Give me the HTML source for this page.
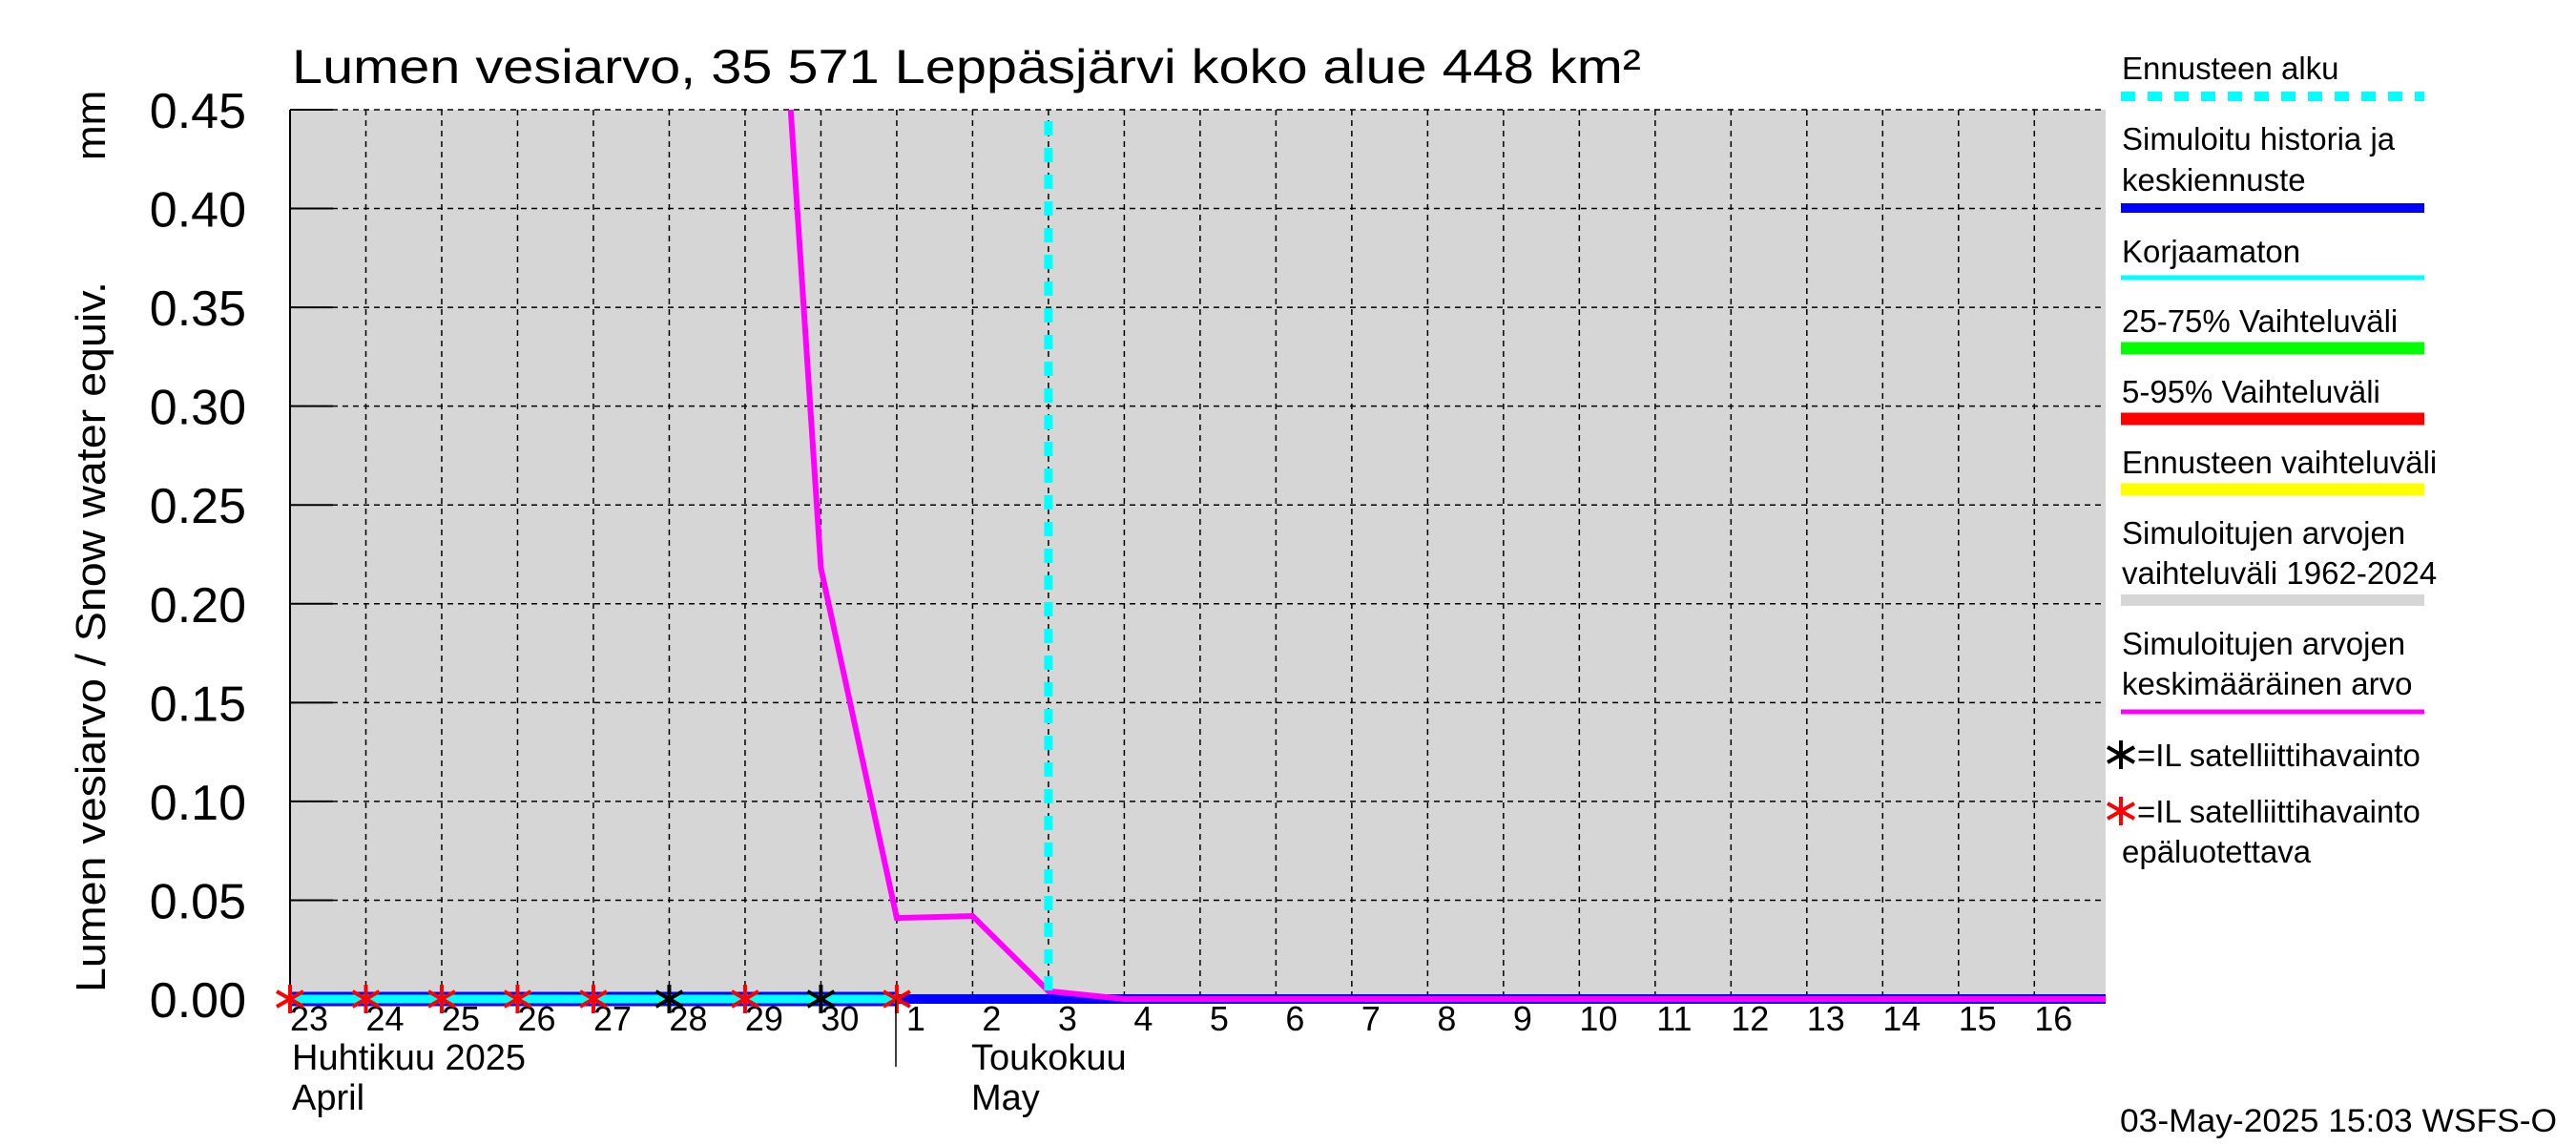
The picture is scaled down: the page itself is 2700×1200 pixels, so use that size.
<!DOCTYPE html>
<html><head><meta charset="utf-8"><style>
html,body{margin:0;padding:0;background:#fff;width:2700px;height:1200px;overflow:hidden}
svg{display:block;font-family:"Liberation Sans",Arial,sans-serif}
</style></head><body>
<svg id="chart" width="2700" height="1200" viewBox="0 0 2700 1200" xmlns="http://www.w3.org/2000/svg">
<text x="306" y="87" font-size="50" textLength="1414" lengthAdjust="spacingAndGlyphs">Lumen vesiarvo, 35 571 Leppäsjärvi koko alue 448 km²</text>
<rect x="304" y="115" width="1903" height="932" fill="#d6d6d6"/>
<g id="grid"></g>
<g id="yaxis"></g>
<g id="xaxis"></g>
<g id="series"></g>
<text transform="translate(110,1040) rotate(-90)" font-size="44" textLength="745" lengthAdjust="spacingAndGlyphs">Lumen vesiarvo / Snow water equiv.</text>
<text transform="translate(110,168) rotate(-90)" font-size="44">mm</text>
<text x="306" y="1121" font-size="38">Huhtikuu  2025</text>
<text x="306" y="1163" font-size="38">April</text>
<text x="1018" y="1121" font-size="38">Toukokuu</text>
<text x="1018" y="1163" font-size="38">May</text>
<line x1="939" y1="1047" x2="939" y2="1118" stroke="#000" stroke-width="1.5"/>
<g font-size="33">
<text x="2224" y="83">Ennusteen alku</text>
<line x1="2223" y1="101" x2="2541" y2="101" stroke="#00ffff" stroke-width="10" stroke-dasharray="15,13"/>
<text x="2224" y="157">Simuloitu historia ja</text>
<text x="2224" y="200">keskiennuste</text>
<line x1="2223" y1="218" x2="2541" y2="218" stroke="#0000ff" stroke-width="10"/>
<text x="2224" y="275">Korjaamaton</text>
<line x1="2223" y1="291" x2="2541" y2="291" stroke="#00ffff" stroke-width="5"/>
<text x="2224" y="348">25-75% Vaihteluväli</text>
<line x1="2223" y1="365" x2="2541" y2="365" stroke="#00ff00" stroke-width="13"/>
<text x="2224" y="422">5-95% Vaihteluväli</text>
<line x1="2223" y1="439" x2="2541" y2="439" stroke="#ff0000" stroke-width="13"/>
<text x="2224" y="496">Ennusteen vaihteluväli</text>
<line x1="2223" y1="513" x2="2541" y2="513" stroke="#ffff00" stroke-width="13"/>
<text x="2224" y="570">Simuloitujen arvojen</text>
<text x="2224" y="612">vaihteluväli 1962-2024</text>
<line x1="2223" y1="629" x2="2541" y2="629" stroke="#d6d6d6" stroke-width="12"/>
<text x="2224" y="686">Simuloitujen arvojen</text>
<text x="2224" y="728">keskimääräinen arvo</text>
<line x1="2223" y1="746" x2="2541" y2="746" stroke="#ff00ff" stroke-width="5"/>
<g id="legstars"></g>
<text x="2240" y="803">=IL satelliittihavainto</text>
<text x="2240" y="862">=IL satelliittihavainto</text>
<text x="2224" y="904">epäluotettava</text>
</g>
<text x="2222" y="1186" font-size="34" textLength="458" lengthAdjust="spacingAndGlyphs">03-May-2025 15:03 WSFS-O</text>
</svg>
<script>
const dayLabels = ["23","24","25","26","27","28","29","30","1","2","3","4","5","6","7","8","9","10","11","12","13","14","15","16"];
const yTicks = [0,0.05,0.10,0.15,0.20,0.25,0.30,0.35,0.40,0.45];
const meanX = [6,7,8,9,10,11,12,14,16,18,20,22,24];
const meanY = [0.80,0.218,0.041,0.042,0.004,0,0,0,0,0,0,0,0];
const obsX = [0,1,2,3,4,5,6,7,8];
const obsReliable = [false,false,false,false,false,true,false,true,false];
const forecastStart = 10;
const historyEnd = 8;

const NS="http://www.w3.org/2000/svg";
const X0=304,X1=2207,Y0=1047,Y1=115,XMAX=23.94,YMAX=0.45;
const sx=d=>X0+(d/XMAX)*(X1-X0);
const sy=v=>Y0-(v/YMAX)*(Y0-Y1);
function mk(t,a,p){const e=document.createElementNS(NS,t);for(const k in a)e.setAttribute(k,a[k]);p.appendChild(e);return e;}
const grid=document.getElementById('grid'),ya=document.getElementById('yaxis'),xa=document.getElementById('xaxis'),ser=document.getElementById('series');
yTicks.forEach(v=>{
  const l=mk('line',{x1:X0,x2:X1,y1:sy(v),y2:sy(v),stroke:'#000','stroke-width':1.5,'stroke-dasharray':'6,5'},grid);
  
  
  mk('line',{x1:X0,x2:X0+45,y1:sy(v),y2:sy(v),stroke:'#000','stroke-width':2},ya);
  const t=mk('text',{x:258,y:sy(v)+19,'font-size':52,'text-anchor':'end'},ya);
  t.textContent=v.toFixed(2);
  
  
});
dayLabels.forEach((d,i)=>{
  const l=mk('line',{x1:sx(i),x2:sx(i),y1:Y1,y2:Y0,stroke:'#000','stroke-width':1.5,'stroke-dasharray':'6,5'},grid);
  
  
  const t=mk('text',{x:sx(i)+20,y:1080,'font-size':36,'text-anchor':'middle'},xa);
  t.textContent=d;
  
  
});
mk('line',{x1:X0,x2:X0,y1:Y1,y2:Y0,stroke:'#000','stroke-width':2},grid);
const band=mk('rect',{x:sx(0),y:Y0-6,width:sx(historyEnd)-sx(0),height:12,fill:'#00ffff',stroke:'#0000ff','stroke-width':3},ser);


const bl=mk('line',{x1:sx(historyEnd),x2:X1,y1:sy(0),y2:sy(0),stroke:'#0000ff','stroke-width':10},ser);


const cp=mk('clipPath',{id:'clip'},ser);mk('rect',{x:X0,y:Y1,width:X1-X0,height:Y0-Y1+10},cp);
const pts=meanX.map((x,i)=>sx(x)+','+sy(meanY[i])).join(' ');
const ml=mk('polyline',{points:pts,fill:'none',stroke:'#ff00ff','stroke-width':6,'clip-path':'url(#clip)'},ser);


const fl=mk('line',{x1:sx(forecastStart),x2:sx(forecastStart),y1:Y1+12,y2:Y0,stroke:'#00ffff','stroke-width':9,'stroke-dasharray':'15,13'},ser);


function star(cx,cy,col,p){
  const g=mk('g',{stroke:col,'stroke-width':4},p);
  mk('line',{x1:cx,x2:cx,y1:cy-15,y2:cy+15},g);
  mk('line',{x1:cx-14,x2:cx+14,y1:cy-8,y2:cy+8},g);
  mk('line',{x1:cx-14,x2:cx+14,y1:cy+8,y2:cy-8},g);
  return g;
}
obsX.forEach((x,i)=>{
  const g=star(sx(x),sy(0),obsReliable[i]?'#000':'#ff0000',ser);
  
  
});
const ls=document.getElementById('legstars');
star(2223,791,'#000',ls);star(2223,850,'#ff0000',ls);
</script>
</body></html>
